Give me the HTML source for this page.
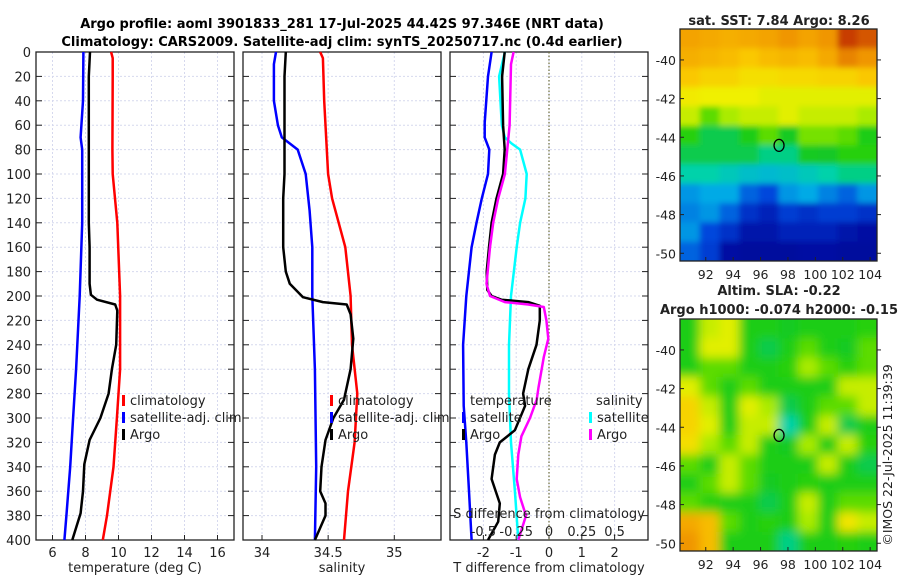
<!DOCTYPE html>
<html><head><meta charset="utf-8">
<style>
html,body{margin:0;padding:0;background:#fff;}
svg{display:block;font-family:"DejaVu Sans","Liberation Sans",sans-serif;}
</style></head>
<body>
<svg id="fig" width="900" height="580" viewBox="0 0 900 580" xmlns="http://www.w3.org/2000/svg">
<defs>
<filter id="blurS" x="-5%" y="-5%" width="110%" height="110%"><feGaussianBlur stdDeviation="3"/></filter>
<filter id="blurL" x="-5%" y="-5%" width="110%" height="110%"><feGaussianBlur stdDeviation="5"/></filter>
<clipPath id="clipA"><rect x="680" y="29" width="197" height="232"/></clipPath>
<clipPath id="clipB"><rect x="680" y="319" width="197" height="232"/></clipPath>
</defs>
<text x="342" y="28" text-anchor="middle" font-size="13" font-weight="bold">Argo profile: aoml 3901833_281 17-Jul-2025 44.42S 97.346E (NRT data)</text>
<text x="342" y="46" text-anchor="middle" font-size="13" font-weight="bold">Climatology: CARS2009. Satellite-adj clim: synTS_20250717.nc (0.4d earlier)</text>
<g id="g"></g>
</svg>
<script>
// ---------- data ----------
const depthTicks=[0,20,40,60,80,100,120,140,160,180,200,220,240,260,280,300,320,340,360,380,400];
const tTicks=[6,8,10,12,14,16];
const sTicks=[34,34.5,35];
const dTicks=[-2,-1,0,1,2];
const sdTicks=[-0.5,-0.25,0,0.25,0.5];
const sdTickLabels=["-0.5","-0.25","0","0.25","0.5"];

const tClimDepth=[0,5,20,80,100,140,200,260,300,340,380,400];
const tClimVal=[9.55,9.65,9.65,9.63,9.65,9.93,10.1,10.1,9.9,9.7,9.3,9.05];
const tSatDepth=[0,40,70,80,140,200,260,300,340,380,400];
const tSatVal=[7.87,7.85,7.7,7.8,7.8,7.65,7.43,7.25,7.07,6.84,6.72];
const tArgoDepth=[0,20,140,160,190,199,203,207,212,240,260,280,300,318,338,360,378,400];
const tArgoVal=[8.27,8.2,8.2,8.25,8.25,8.33,8.7,9.8,9.93,9.86,9.6,9.4,8.9,8.25,7.93,7.85,7.7,7.2];

const sClimDepth=[0,5,40,100,120,140,160,200,240,280,320,360,400];
const sClimVal=[34.44,34.46,34.47,34.5,34.53,34.58,34.63,34.67,34.68,34.72,34.7,34.65,34.62];
const sSatDepth=[0,10,40,60,70,75,80,100,130,160,200,260,340,400];
const sSatVal=[34.106,34.09,34.09,34.12,34.15,34.21,34.27,34.33,34.36,34.38,34.38,34.4,34.41,34.4];
const sArgoDepth=[0,20,100,120,160,180,190,201,205,207,215,235,260,285,300,318,340,360,370,380,400];
const sArgoVal=[34.18,34.17,34.17,34.16,34.16,34.18,34.21,34.31,34.46,34.64,34.67,34.69,34.67,34.62,34.54,34.48,34.45,34.44,34.48,34.48,34.4];

const dTSatDepth=[0,20,58,70,80,100,120,140,160,200,240,290,320,360,400];
const dTSatVal=[-1.75,-1.86,-1.96,-1.96,-1.82,-1.86,-2.05,-2.21,-2.36,-2.52,-2.62,-2.6,-2.52,-2.44,-2.36];
const dTArgoDepth=[0,20,60,80,100,120,140,160,180,195,200,203,205,208,220,240,260,280,290,310,320,330,350,370,385,400];
const dTArgoVal=[-1.35,-1.43,-1.4,-1.35,-1.4,-1.6,-1.75,-1.83,-1.9,-1.88,-1.75,-1.45,-0.63,-0.28,-0.28,-0.38,-0.63,-0.79,-0.73,-1.04,-1.5,-1.65,-1.75,-1.5,-1.55,-1.86];
const dSSatDepth=[0,20,60,70,75,80,100,120,140,160,200,240,280,320,360,400];
const dSSatVal=[-0.336,-0.38,-0.36,-0.336,-0.285,-0.22,-0.17,-0.18,-0.22,-0.246,-0.29,-0.305,-0.305,-0.29,-0.26,-0.234];
const dSArgoDepth=[0,10,60,100,120,140,160,190,200,205,207,209,220,235,250,275,285,300,315,330,350,365,380,400];
const dSArgoVal=[-0.27,-0.29,-0.3,-0.336,-0.387,-0.425,-0.45,-0.476,-0.45,-0.336,-0.158,-0.04,-0.02,-0.005,-0.04,-0.08,-0.094,-0.145,-0.21,-0.234,-0.246,-0.22,-0.175,-0.234];

const lonTicks=[92,94,96,98,100,102,104];
const latTicks=[-40,-42,-44,-46,-48,-50];
const argoLon=97.35, argoLat=-44.42;
// colour index (0..1) rows north->south, cols west->east
const sstGrid=[
[.76,.75,.74,.75,.76,.78,.76,.78,.88,.85],
[.74,.73,.72,.70,.72,.73,.72,.75,.80,.78],
[.70,.68,.68,.66,.66,.67,.67,.68,.68,.70],
[.64,.63,.63,.63,.62,.62,.62,.62,.62,.62],
[.60,.55,.58,.60,.60,.62,.60,.60,.60,.58],
[.52,.45,.45,.50,.55,.48,.56,.56,.55,.50],
[.45,.45,.45,.45,.42,.42,.48,.47,.52,.52],
[.40,.40,.38,.36,.35,.36,.38,.40,.42,.42],
[.30,.32,.32,.25,.22,.30,.32,.28,.25,.30],
[.28,.30,.25,.18,.15,.20,.18,.20,.20,.18],
[.30,.22,.18,.12,.12,.15,.15,.15,.12,.10],
[.25,.20,.10,.08,.08,.08,.10,.10,.08,.08]];
const slaGrid=[
[.50,.60,.62,.50,.50,.48,.50,.50,.50,.52],
[.50,.62,.62,.50,.45,.50,.55,.50,.48,.55],
[.50,.55,.55,.50,.50,.52,.58,.55,.52,.55],
[.62,.55,.50,.55,.50,.50,.50,.50,.60,.60],
[.68,.60,.50,.62,.58,.45,.50,.55,.55,.60],
[.68,.62,.50,.60,.60,.40,.50,.60,.45,.50],
[.66,.58,.55,.60,.50,.48,.58,.50,.60,.52],
[.55,.50,.60,.55,.50,.50,.50,.60,.50,.45],
[.50,.55,.60,.55,.48,.50,.52,.50,.50,.50],
[.55,.52,.50,.50,.45,.50,.60,.50,.55,.55],
[.75,.72,.55,.50,.52,.50,.58,.50,.65,.60],
[.78,.72,.50,.50,.50,.42,.50,.50,.52,.50]];

// ---------- drawing ----------
const NS="http://www.w3.org/2000/svg";
const G=document.getElementById('g');
function mk(tag,attrs,parent){const e=document.createElementNS(NS,tag);for(const k in attrs)e.setAttribute(k,attrs[k]);(parent||G).appendChild(e);return e;}
function txt(x,y,s,size,anchor,parent){const e=mk('text',{x:x,y:y,'font-size':size,'text-anchor':anchor||'middle',fill:'#222'},parent);e.textContent=s;return e;}

const Y0=52,Y1=540;
const yD=d=>Y0+d*(Y1-Y0)/400;

function panel(name,x0,x1,xs,xt,xlabels,xlabel){
  const g=mk('g',{});
  
  
  xt.forEach(v=>{const l=mk('line',{x1:xs(v),x2:xs(v),y1:Y0,y2:Y1,stroke:'#d6d9ee','stroke-width':1,'stroke-dasharray':'2,2'},g);
    });
  depthTicks.forEach(d=>{const l=mk('line',{x1:x0,x2:x1,y1:yD(d),y2:yD(d),stroke:'#d6d9ee','stroke-width':1,'stroke-dasharray':'2,2'},g);
    
    mk('line',{x1:x0,x2:x0+6,y1:yD(d),y2:yD(d),stroke:'#222'},g);
    mk('line',{x1:x1-6,x2:x1,y1:yD(d),y2:yD(d),stroke:'#222'},g);});
  xt.forEach((v,i)=>{mk('line',{x1:xs(v),x2:xs(v),y1:Y1,y2:Y1-5,stroke:'#222'},g);
    if(xlabels){const t=txt(xs(v),557,xlabels[i],13,'middle',g);}});
  const fr=mk('rect',{x:x0,y:Y0,width:x1-x0,height:Y1-Y0,fill:'none',stroke:'#222','stroke-width':1.3},g);
  
  const xl=txt((x0+x1)/2,572,xlabel,13,'middle',g);
  
  return g;
}
function line(g,name,xs,depths,vals,color){
  const p=depths.map((d,i)=>(i?'L':'M')+xs(vals[i]).toFixed(1)+','+yD(d).toFixed(1)).join('');
  const e=mk('path',{d:p,fill:'none',stroke:color,'stroke-width':2.5,'stroke-linejoin':'round'},g);
  
  
}
function legendEntry(g,name,x,y,color,label){
  mk('rect',{x:x,y:y-10,width:3,height:11,fill:color},g);
  const t=txt(x+8,y,label,13,'start',g);
  
  
}

depthTicks.forEach(d=>{const t=txt(31,yD(d)+5,String(d),13,'end');
  });

const xT=v=>36+(v-5)*(234-36)/12;
const p1=panel('temperature-panel',36,234,xT,tTicks,tTicks.map(String),'temperature (deg C)');
line(p1,'temperature-climatology-line',xT,tClimDepth,tClimVal,'#ff0000');
line(p1,'temperature-satellite-line',xT,tSatDepth,tSatVal,'#0000ff');
line(p1,'temperature-argo-line',xT,tArgoDepth,tArgoVal,'#000');
legendEntry(p1,'legend-climatology',122,405,'#ff0000','climatology');
legendEntry(p1,'legend-satellite-adj-clim',122,422,'#0000ff','satellite-adj. clim');
legendEntry(p1,'legend-argo',122,439,'#000','Argo');

const xS=v=>262+(v-34)*132.3;
const p2=panel('salinity-panel',243,441,xS,sTicks,["34","34.5","35"],'salinity');
line(p2,'salinity-climatology-line',xS,sClimDepth,sClimVal,'#ff0000');
line(p2,'salinity-satellite-line',xS,sSatDepth,sSatVal,'#0000ff');
line(p2,'salinity-argo-line',xS,sArgoDepth,sArgoVal,'#000');
legendEntry(p2,'legend-climatology',330,405,'#ff0000','climatology');
legendEntry(p2,'legend-satellite-adj-clim',330,422,'#0000ff','satellite-adj. clim');
legendEntry(p2,'legend-argo',330,439,'#000','Argo');

const xD=v=>549+v*32.8;
const xSD=v=>549+v*131.2;
const p3=panel('difference-panel',450,648,xD,dTicks,dTicks.map(String),'T difference from climatology');
mk('line',{x1:xD(0),x2:xD(0),y1:Y0,y2:Y1,stroke:'#6b6b3a','stroke-width':1.2,'stroke-dasharray':'1.5,2'},p3);
line(p3,'temperature-diff-satellite-line',xD,dTSatDepth,dTSatVal,'#0000ff');
line(p3,'salinity-diff-satellite-line',xSD,dSSatDepth,dSSatVal,'#00ffff');
line(p3,'temperature-diff-argo-line',xD,dTArgoDepth,dTArgoVal,'#000');
line(p3,'salinity-diff-argo-line',xSD,dSArgoDepth,dSArgoVal,'#ff00ff');
sdTicks.forEach((v,i)=>{const t=txt(xSD(v),536,sdTickLabels[i],13,'middle',p3);
  });
const st=txt(549,518,'S difference from climatology',13,'middle',p3);

const lt=txt(470,405,'temperature',13,'start',p3);
legendEntry(p3,'legend-temperature-satellite',462,422,'#0000ff','satellite');
legendEntry(p3,'legend-temperature-argo',462,439,'#000','Argo');
const ls=txt(596,405,'salinity',13,'start',p3);
legendEntry(p3,'legend-salinity-satellite',589,422,'#00ffff','satellite');
legendEntry(p3,'legend-salinity-argo',589,439,'#ff00ff','Argo');

// colour map resembling reference palette
const cmStops=[[0,[0,0,130]],[0.12,[0,20,170]],[0.22,[0,70,220]],[0.32,[0,170,230]],[0.40,[0,210,170]],[0.47,[20,200,40]],[0.53,[40,210,0]],[0.58,[170,235,0]],[0.63,[240,240,0]],[0.70,[250,200,0]],[0.78,[240,150,0]],[0.88,[200,60,0]],[1,[140,10,0]]];
function cmap(v){
  v=Math.max(0,Math.min(1,v));
  for(let i=1;i<cmStops.length;i++){
    if(v<=cmStops[i][0]){const a=cmStops[i-1],b=cmStops[i];const f=(v-a[0])/(b[0]-a[0]);
      return 'rgb('+a[1].map((c,k)=>Math.round(c+(b[1][k]-c)*f)).join(',')+')';}
  }
  return 'rgb(140,10,0)';
}
const LON0=90.12,LON1=104.5,LAT0=-38.4,LAT1=-50.4;
function mapPanel(name,top,grid,clip,filt,title1,title2){
  const x0=680,x1=877,y0=top,y1=top+232;
  const g=mk('g',{});
  
  
  const xL=l=>x0+(l-LON0)*(x1-x0)/(LON1-LON0);
  const yL=l=>y0+(l-LAT0)*(y1-y0)/(LAT1-LAT0);
  const cg=mk('g',{'clip-path':'url(#'+clip+')'},g);
  const hg=mk('g',{filter:'url(#'+filt+')'},cg);
  const rows=grid.length,cols=grid[0].length;
  const dLon=(LON1-LON0)/cols,dLat=(LAT1-LAT0)/rows;
  grid.forEach((row,ri)=>row.forEach((v,ci)=>{
    let xa=xL(LON0+ci*dLon),xb=xL(LON0+(ci+1)*dLon),ya=yL(LAT0+ri*dLat),yb=yL(LAT0+(ri+1)*dLat);
    if(ci===0)xa-=10; if(ci===cols-1)xb+=10; if(ri===0)ya-=10; if(ri===rows-1)yb+=10;
    const c=mk('rect',{x:xa.toFixed(1),y:ya.toFixed(1),width:(xb-xa+0.6).toFixed(1),height:(yb-ya+0.6).toFixed(1),fill:cmap(v)},hg);
    
    
  }));
  const fr=mk('rect',{x:x0,y:y0,width:x1-x0,height:y1-y0,fill:'none',stroke:'#222','stroke-width':1.3},g);
  
  lonTicks.forEach(l=>{mk('line',{x1:xL(l),x2:xL(l),y1:y1,y2:y1-4,stroke:'#222'},g);
    const t=txt(xL(l),y1+18,String(l),12.5,'middle',g);});
  latTicks.forEach(l=>{mk('line',{x1:x0,x2:x0+4,y1:yL(l),y2:yL(l),stroke:'#222'},g);
    mk('line',{x1:x1,x2:x1+4,y1:yL(l),y2:yL(l),stroke:'#222'},g);
    const t=txt(676,yL(l)+5,String(l),12.5,'end',g);});
  const m=mk('ellipse',{cx:xL(argoLon),cy:yL(argoLat),rx:5,ry:6,fill:'none',stroke:'#000','stroke-width':1.3},g);
  
  const t1=txt(779,top-(title2?24:4),title1,13,'middle',g);t1.setAttribute('font-weight','bold');
  
  if(title2){const t2=txt(779,top-5,title2,13,'middle',g);t2.setAttribute('font-weight','bold');
    }
}
mapPanel('sst-map',29,sstGrid,'clipA','blurS','sat. SST: 7.84 Argo: 8.26');
mapPanel('sla-map',319,slaGrid,'clipB','blurL','Altim. SLA: -0.22','Argo h1000: -0.074 h2000: -0.15');
const cr=txt(0,0,'©IMOS 22-Jul-2025 11:39:39',12.5,'middle');
cr.setAttribute('transform','translate(892,455) rotate(-90)');


</script>
</body></html>
